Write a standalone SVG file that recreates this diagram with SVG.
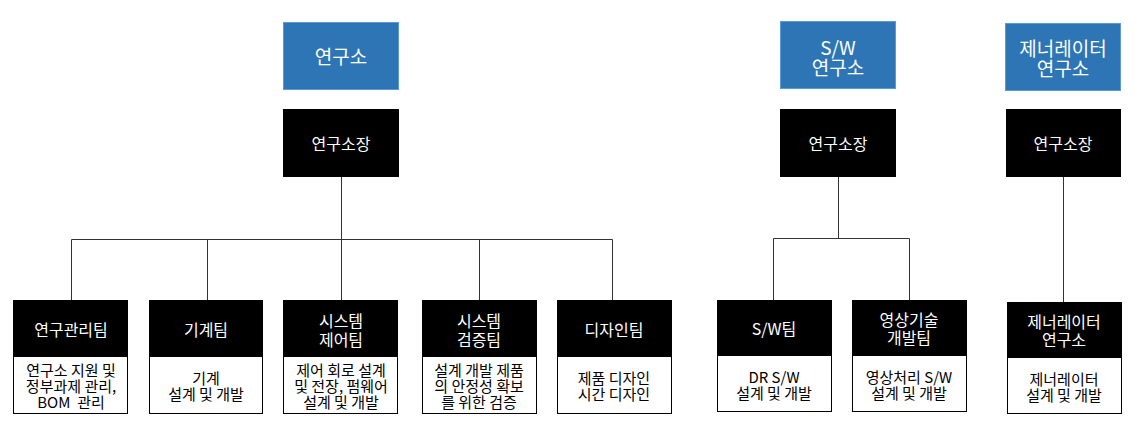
<svg xmlns="http://www.w3.org/2000/svg" width="1143" height="422" viewBox="0 0 1143 422">
<style>
.blue{fill:#2e75b6;stroke:#5b9bd5;stroke-width:1}
.blk{fill:#000;stroke:#000;stroke-width:1}
.wht{fill:#fff;stroke:#000;stroke-width:1}
text{font-family:"Noto Sans CJK KR","Noto Sans",sans-serif;text-anchor:middle;dominant-baseline:central}
.t1{fill:#fff;font-size:19px}
.t2{fill:#fff;font-size:16px}
.t3{fill:#000;font-size:15px}
.ln{stroke:#333;stroke-width:1;fill:none}
</style>
<rect width="1143" height="422" fill="#fff"/>
<g id="connectors">
<path class="ln" d="M341.5 177V239.5M71.5 239.5H612.5M71.5 239.5V300M207.5 239.5V300M341.5 239.5V300M479.5 239.5V300M612.5 239.5V300"/>
<path class="ln" d="M838.5 177V238.5M773.5 238.5H909.5M773.5 238.5V300M909.5 238.5V300"/>
<path class="ln" d="M1063.5 177V302"/>
</g>
<g id="n-lab">
<rect class="blue" x="283.5" y="22.5" width="115" height="67"/>
<text class="t1" x="341" y="55">연구소</text>
</g>
<g id="n-lab-head">
<rect class="blk" x="283.5" y="109.5" width="115" height="67"/>
<text class="t2" x="341" y="143">연구소장</text>
</g>
<g id="n-sw">
<rect class="blue" x="780.5" y="21.5" width="115" height="67"/>
<text class="t1" x="838" y="46">S/W<tspan x="838" dy="20">연구소</tspan></text>
</g>
<g id="n-sw-head">
<rect class="blk" x="780.5" y="109.5" width="115" height="67"/>
<text class="t2" x="838" y="143">연구소장</text>
</g>
<g id="n-gen">
<rect class="blue" x="1005.5" y="23.5" width="115" height="67"/>
<text class="t1" x="1063" y="47">제너레이터<tspan x="1063" dy="20">연구소</tspan></text>
</g>
<g id="n-gen-head">
<rect class="blk" x="1006.5" y="109.5" width="114" height="67"/>
<text class="t2" x="1063" y="143">연구소장</text>
</g>
<g id="n-mgmt">
<rect class="blk" x="13.5" y="300.5" width="114" height="56"/>
<rect class="wht" x="13.5" y="356.5" width="114" height="57"/>
<text class="t2" x="71" y="329">연구관리팀</text>
<text class="t3" x="71" y="369" xml:space="preserve">연구소 지원 및<tspan x="71" dy="16">정부과제 관리,</tspan><tspan x="71" dy="16">BOM  관리</tspan></text>
</g>
<g id="n-mech">
<rect class="blk" x="149.5" y="300.5" width="113" height="56"/>
<rect class="wht" x="149.5" y="356.5" width="113" height="57"/>
<text class="t2" x="206" y="329">기계팀</text>
<text class="t3" x="206" y="377">기계<tspan x="206" dy="16">설계 및 개발</tspan></text>
</g>
<g id="n-ctrl">
<rect class="blk" x="283.5" y="300.5" width="114" height="56"/>
<rect class="wht" x="283.5" y="356.5" width="114" height="57"/>
<text class="t2" x="341" y="320">시스템<tspan x="341" dy="19">제어팀</tspan></text>
<text class="t3" x="341" y="369">제어 회로 설계<tspan x="341" dy="16">및 전장, 펌웨어</tspan><tspan x="341" dy="16">설계 및 개발</tspan></text>
</g>
<g id="n-verify">
<rect class="blk" x="422.5" y="300.5" width="114" height="56"/>
<rect class="wht" x="422.5" y="356.5" width="114" height="57"/>
<text class="t2" x="479" y="320">시스템<tspan x="479" dy="19">검증팀</tspan></text>
<text class="t3" x="479" y="369">설계 개발 제품<tspan x="479" dy="16">의 안정성 확보</tspan><tspan x="479" dy="16">를 위한 검증</tspan></text>
</g>
<g id="n-design">
<rect class="blk" x="557.5" y="300.5" width="114" height="56"/>
<rect class="wht" x="557.5" y="356.5" width="114" height="57"/>
<text class="t2" x="614" y="329">디자인팀</text>
<text class="t3" x="614" y="377">제품 디자인<tspan x="614" dy="16">시간 디자인</tspan></text>
</g>
<g id="n-swteam">
<rect class="blk" x="717.5" y="300.5" width="114" height="55"/>
<rect class="wht" x="717.5" y="355.5" width="114" height="56"/>
<text class="t2" x="774" y="328">S/W팀</text>
<text class="t3" x="774" y="376">DR S/W<tspan x="774" dy="16">설계 및 개발</tspan></text>
</g>
<g id="n-video">
<rect class="blk" x="852.5" y="300.5" width="114" height="55"/>
<rect class="wht" x="852.5" y="355.5" width="114" height="56"/>
<text class="t2" x="909" y="319">영상기술<tspan x="909" dy="18">개발팀</tspan></text>
<text class="t3" x="909" y="376">영상처리 S/W<tspan x="909" dy="16">설계 및 개발</tspan></text>
</g>
<g id="n-genteam">
<rect class="blk" x="1007.5" y="302.5" width="114" height="55"/>
<rect class="wht" x="1007.5" y="357.5" width="114" height="56"/>
<text class="t2" x="1064" y="321">제너레이터<tspan x="1064" dy="18">연구소</tspan></text>
<text class="t3" x="1064" y="378">제너레이터<tspan x="1064" dy="16">설계 및 개발</tspan></text>
</g>
</svg>
